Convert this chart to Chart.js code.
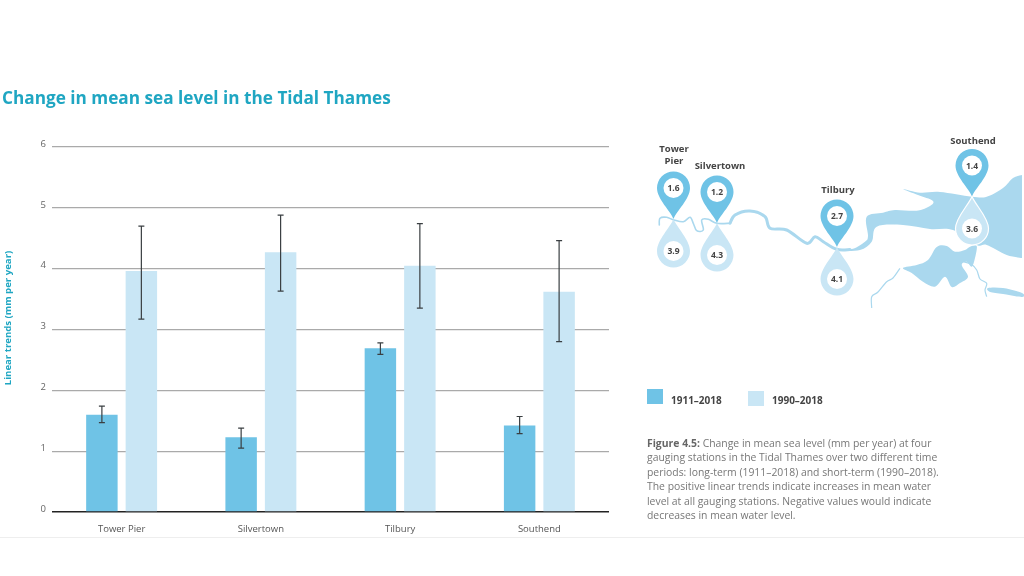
<!DOCTYPE html>
<html>
<head>
<meta charset="utf-8">
<title>Change in mean sea level in the Tidal Thames</title>
<script src="https://cdn.jsdelivr.net/npm/chart.js@4/dist/chart.umd.min.js"></script>
<style>
    html, body { margin: 0; padding: 0; background: #fff; }
    body { width: 1024px; height: 576px; position: relative; overflow: hidden; font-family: "Open Sans", sans-serif; }
    #chart { position: absolute; left: 0; top: 0; }
    #map { position: absolute; left: 0; top: 0; }
    .title { position: absolute; left: 2px; top: 85px; margin: 0; font-size: 17.2px; line-height: 26px; font-weight: 700; color: #1fa6c2; white-space: nowrap; }
    .y-title { position: absolute; left: 8px; top: 318px; transform: translate(-50%, -50%) rotate(-90deg); font-size: 9.6px; line-height: 12px; font-weight: 700; color: #1fa6c2; white-space: nowrap; }
    .swatch { position: absolute; width: 16px; height: 15px; }
    .legend-label { position: absolute; font-size: 10px; line-height: 14px; font-weight: 700; color: #444; }
    .caption { position: absolute; left: 647px; top: 436px; font-size: 10.4px; line-height: 14.4px; color: #777; white-space: nowrap; }
    .caption b { color: #666; }
    .footer-line { position: absolute; left: 0; top: 537px; width: 1024px; height: 1px; background: #eee; }
</style>
</head>
<body>
<canvas id="chart" width="1024" height="576"></canvas>
<svg id="map" width="1024" height="576" viewBox="0 0 1024 576" xmlns="http://www.w3.org/2000/svg"></svg>

<h1 class="title">Change in mean sea level in the Tidal Thames</h1>
<div class="y-title">Linear trends (mm per year)</div>

<div class="swatch" style="left:647px;top:389px;background:#6fc3e6"></div>
<div class="legend-label" style="left:671px;top:393px" id="legendLong"></div>
<div class="swatch" style="left:748px;top:391px;background:#c9e6f5"></div>
<div class="legend-label" style="left:772px;top:393px" id="legendShort"></div>

<div class="caption"><b>Figure 4.5:</b> Change in mean sea level (mm per year) at four<br>gauging stations in the Tidal Thames over two different time<br>periods: long-term (1911–2018) and short-term (1990–2018).<br>The positive linear trends indicate increases in mean water<br>level at all gauging stations. Negative values would indicate<br>decreases in mean water level.</div>

<div class="footer-line"></div>

<script>
// Chart data
const stations = ['Tower Pier', 'Silvertown', 'Tilbury', 'Southend'];
const periodLong = '1911–2018';
const periodShort = '1990–2018';
const longTerm = [1.6, 1.23, 2.69, 1.42];
const longLow = [1.47, 1.05, 2.59, 1.29];
const longHigh = [1.74, 1.38, 2.78, 1.57];
const shortTerm = [3.96, 4.27, 4.05, 3.62];
const shortLow = [3.17, 3.63, 3.35, 2.8];
const shortHigh = [4.7, 4.88, 4.74, 4.46];

// Map labels
const mapLong = ['1.6', '1.2', '2.7', '1.4'];
const mapShort = ['3.9', '4.3', '4.1', '3.6'];

const DARK = '#6fc3e6';
const LIGHT = '#c9e6f5';
const WATER = '#aad8ee';

document.getElementById('legendLong').textContent = periodLong;
document.getElementById('legendShort').textContent = periodShort;

// Error bars, drawn on top of the bars
const errorBars = {
    id: 'errorBars',
    afterDatasetsDraw: function (chart) {
        const ctx = chart.ctx;
        const y = chart.scales.y;
        const ranges = [[longLow, longHigh], [shortLow, shortHigh]];
        ctx.save();
        ctx.strokeStyle = '#3a3f42';
        ctx.lineWidth = 1.2;
        ranges.forEach(function (range, d) {
            chart.getDatasetMeta(d).data.forEach(function (bar, i) {
                const top = y.getPixelForValue(range[1][i]);
                const bottom = y.getPixelForValue(range[0][i]);
                ctx.beginPath();
                ctx.moveTo(bar.x, top);
                ctx.lineTo(bar.x, bottom);
                ctx.moveTo(bar.x - 3, top);
                ctx.lineTo(bar.x + 3, top);
                ctx.moveTo(bar.x - 3, bottom);
                ctx.lineTo(bar.x + 3, bottom);
                ctx.stroke();
            });
        });
        ctx.restore();
    }
};

new Chart(document.getElementById('chart'), {
    type: 'bar',
    data: {
        labels: stations,
        datasets: [
            { label: periodLong, data: longTerm, backgroundColor: DARK },
            { label: periodShort, data: shortTerm, backgroundColor: LIGHT }
        ]
    },
    options: {
        responsive: false,
        animation: false,
        layout: { padding: { left: 0, top: 147, right: 415, bottom: 38 } },
        datasets: { bar: { categoryPercentage: 0.567, barPercentage: 0.797 } },
        plugins: { legend: { display: false }, tooltip: { enabled: false } },
        scales: {
            x: {
                grid: { display: false },
                border: { display: false },
                ticks: { color: '#555', font: { family: 'Open Sans', size: 9.5 }, padding: 4, maxRotation: 0 },
                afterFit: function (scale) { scale.height = 26; }
            },
            y: {
                min: 0,
                max: 6,
                grid: {
                    drawTicks: false,
                    color: function (c) { return c.tick.value === 0 ? '#222' : '#aaa'; },
                    lineWidth: function (c) { return c.tick.value === 0 ? 1.5 : 1.2; }
                },
                border: { display: false },
                ticks: { stepSize: 1, color: '#666', font: { family: 'Open Sans', size: 9.5 }, padding: 6, labelOffset: -3 },
                afterFit: function (scale) { scale.width = 52; }
            }
        }
    },
    plugins: [errorBars]
});

// Map illustration (not data): water outlines plus a pin and a drop per station
const svgNS = 'http://www.w3.org/2000/svg';
const map = document.getElementById('map');

function addShape(tag, attrs, text) {
    const el = document.createElementNS(svgNS, tag);
    Object.keys(attrs).forEach(function (k) { el.setAttribute(k, attrs[k]); });
    if (text) el.textContent = text;
    map.appendChild(el);
    return el;
}

// Rounds a traced outline so the coast does not look like a polygon
function smoothPath(pts, closed) {
    const n = pts.length;
    const at = function (i) { return closed ? pts[(i + n) % n] : pts[Math.max(0, Math.min(n - 1, i))]; };
    let d = 'M' + pts[0][0] + ',' + pts[0][1];
    const last = closed ? n : n - 1;
    for (let i = 0; i < last; i++) {
        const p0 = at(i - 1), p1 = at(i), p2 = at(i + 1), p3 = at(i + 2);
        d += ' C' + (p1[0] + (p2[0] - p0[0]) / 6).toFixed(1) + ',' + (p1[1] + (p2[1] - p0[1]) / 6).toFixed(1) +
            ' ' + (p2[0] - (p3[0] - p1[0]) / 6).toFixed(1) + ',' + (p2[1] - (p3[1] - p1[1]) / 6).toFixed(1) +
            ' ' + p2[0] + ',' + p2[1];
    }
    return d + (closed ? ' Z' : '');
}

const estuaryNorth = [[840, 249], [853, 248.7], [865, 241.7], [868, 236], [866.7, 216.7], [883, 212.7], [895, 210], [916.7, 210.7], [930, 206], [932.7, 200.7], [918, 195], [903, 189], [920, 192.7], [940, 192], [971.7, 196.7], [986.7, 196.7], [1003, 188], [1013, 178], [1022, 175]];
const estuarySouth = [[1022, 258], [1006.7, 255], [986.7, 245], [976.7, 245], [953, 230], [930, 229], [903, 225], [876.7, 226.7], [871.7, 241.7], [860, 250], [840, 251]];
const medway = [[903, 268], [916.7, 265], [928, 260], [936.7, 247], [946.7, 246], [955, 251.7], [965, 250], [970, 246.7], [976.7, 246], [975, 258], [971.7, 266.7], [966.7, 261.7], [961.7, 265], [968, 276.7], [960, 283], [951.7, 287], [945, 276.7], [935, 286.7], [923, 281.7], [911.7, 273]];
const riverUpper = [[659.3, 225], [660, 218.3], [666.7, 217.3], [674, 220], [683.3, 221.7], [690, 217.3], [693.3, 223.3], [696.7, 230.7], [703.3, 230], [701.7, 220], [708.3, 219.3], [716.7, 223.3], [730, 223.3]];
const riverLower = [[730, 223.3], [735, 215], [750, 211], [765, 216.7], [770, 228.3], [786.7, 230], [806.7, 243.3], [815, 236.7], [823.3, 241.7], [836.7, 249.3], [850, 249.5]];
const shoreSouth = [[871.7, 308], [871.7, 296.7], [878, 292], [886.7, 281.7], [893, 278], [900, 268.3]];
const shoreEast = [[963.3, 261.7], [971, 264], [976.7, 270], [980, 279], [986.7, 283.3], [985, 290], [986.7, 296.7]];
const creek = [[988, 288], [1003, 288], [1022, 293], [1022, 297], [1003, 294], [990, 292]];

addShape('path', { d: smoothPath(estuaryNorth, false) + ' L' + smoothPath(estuarySouth, false).slice(1) + ' Z', fill: WATER });
addShape('path', { d: smoothPath(medway, true), fill: WATER });
addShape('path', { d: smoothPath(creek, true), fill: WATER });
addShape('path', { d: smoothPath(riverUpper, false), fill: 'none', stroke: WATER, 'stroke-width': 1.6, 'stroke-linecap': 'round' });
addShape('path', { d: smoothPath(riverLower, false), fill: 'none', stroke: WATER, 'stroke-width': 3, 'stroke-linecap': 'round' });
addShape('path', { d: smoothPath(shoreSouth, false), fill: 'none', stroke: WATER, 'stroke-width': 1.2 });
addShape('path', { d: smoothPath(shoreEast, false), fill: 'none', stroke: WATER, 'stroke-width': 1.2 });

const mapSpots = [
    { x: 673.5, tip: 219 },
    { x: 717, tip: 223 },
    { x: 837, tip: 247 },
    { x: 972, tip: 196.5 }
];

function pinPath(x, tip) {
    const r = 16.5;
    const cy = tip - 31;
    return 'M' + x + ',' + tip +
        ' C' + (x - 3) + ',' + (tip - 8) + ' ' + (x - r) + ',' + (cy + 11) + ' ' + (x - r) + ',' + cy +
        ' A' + r + ',' + r + ' 0 1 1 ' + (x + r) + ',' + cy +
        ' C' + (x + r) + ',' + (cy + 11) + ' ' + (x + 3) + ',' + (tip - 8) + ' ' + x + ',' + tip + ' Z';
}

function dropPath(x, top) {
    const r = 16.5;
    const cy = top + 32;
    return 'M' + x + ',' + top +
        ' C' + (x + 3) + ',' + (top + 8) + ' ' + (x + r) + ',' + (cy - 11) + ' ' + (x + r) + ',' + cy +
        ' A' + r + ',' + r + ' 0 1 1 ' + (x - r) + ',' + cy +
        ' C' + (x - r) + ',' + (cy - 11) + ' ' + (x - 3) + ',' + (top + 8) + ' ' + x + ',' + top + ' Z';
}

function valueLabel(x, y, value) {
    addShape('circle', { cx: x, cy: y, r: 10, fill: '#fff' });
    addShape('text', {
        x: x, y: y + 3, 'text-anchor': 'middle', 'font-size': 8.5, 'font-weight': 700,
        'font-family': 'Open Sans', fill: '#444'
    }, value);
}

mapSpots.forEach(function (spot, i) {
    const isSouthend = i === 3;
    addShape('path', {
        d: dropPath(spot.x, spot.tip), fill: LIGHT,
        stroke: isSouthend ? '#fff' : 'none', 'stroke-width': 1.2
    });
    valueLabel(spot.x, spot.tip + 32, mapShort[i]);
    addShape('path', { d: pinPath(spot.x, spot.tip), fill: DARK });
    valueLabel(spot.x, spot.tip - 31, mapLong[i]);
});

function mapName(x, y, text) {
    addShape('text', {
        x: x, y: y, 'text-anchor': 'middle', 'font-size': 9.5, 'font-weight': 700,
        'font-family': 'Open Sans', fill: '#444'
    }, text);
}
mapName(674, 152, 'Tower');
mapName(674, 164, 'Pier');
mapName(720, 169, stations[1]);
mapName(838, 193, stations[2]);
mapName(973, 144, stations[3]);
</script>
</body>
</html>
